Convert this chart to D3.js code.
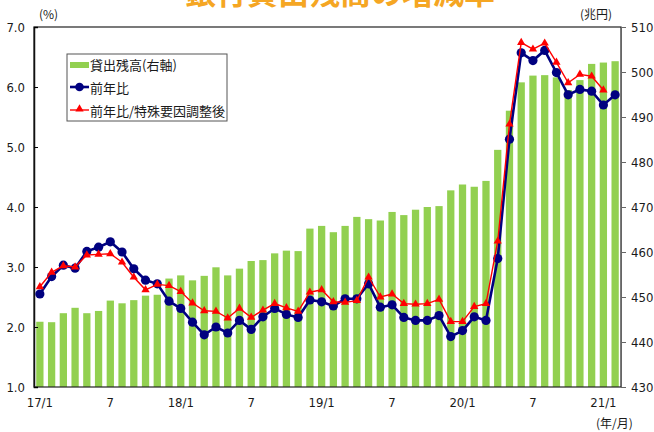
<!DOCTYPE html>
<html>
<head>
<meta charset="utf-8">
<script src="https://cdn.jsdelivr.net/npm/d3@7"></script>
<style>
  body { margin: 0; background: #fff; }
  svg text { font-family: "Liberation Sans Narrow", "DejaVu Sans Condensed", "Noto Sans CJK JP", sans-serif; fill: #1a1a1a; }
  .jp { font-family: "Noto Sans CJK JP", sans-serif; }
</style>
</head>
<body>
<script>
// chart values (17/1 .. 21/2, monthly)
var months = [
  "17/1","17/2","17/3","17/4","17/5","17/6","17/7","17/8","17/9","17/10","17/11","17/12",
  "18/1","18/2","18/3","18/4","18/5","18/6","18/7","18/8","18/9","18/10","18/11","18/12",
  "19/1","19/2","19/3","19/4","19/5","19/6","19/7","19/8","19/9","19/10","19/11","19/12",
  "20/1","20/2","20/3","20/4","20/5","20/6","20/7","20/8","20/9","20/10","20/11","20/12",
  "21/1","21/2"
];

// 貸出残高 (兆円, right axis)
var balance = [
  444.5, 444.4, 446.4, 447.6, 446.4, 446.9, 449.2, 448.6, 449.3, 450.3, 450.5, 454.1,
  454.8, 453.7, 454.7, 456.6, 454.8, 456.3, 458.0, 458.2, 459.7, 460.3, 460.2, 465.2,
  465.8, 464.4, 465.8, 467.8, 467.3, 467.0, 468.9, 468.2, 469.4, 470.0, 470.2, 473.7,
  475.0, 474.5, 475.8, 482.7, 491.4, 497.7, 499.2, 499.3, 498.8, 496.0, 498.2, 501.8,
  502.1, 502.4
];

// 前年比 (%)
var yoy = [
  2.55, 2.84, 3.03, 2.98, 3.26, 3.33, 3.42, 3.25, 2.97, 2.78, 2.72, 2.43,
  2.31, 2.08, 1.87, 2.00, 1.90, 2.11, 1.96, 2.17, 2.31, 2.21, 2.16, 2.45,
  2.42, 2.35, 2.47, 2.47, 2.72, 2.33, 2.37, 2.16, 2.11, 2.11, 2.19, 1.84,
  1.94, 2.17, 2.11, 3.14, 5.13, 6.57, 6.44, 6.61, 6.24, 5.87, 5.96, 5.93,
  5.70, 5.87
];

// 前年比/特殊要因調整後 (%)
var yoyAdj = [
  2.67, 2.91, 3.02, 3.00, 3.20, 3.21, 3.22, 3.08, 2.83, 2.62, 2.71, 2.69,
  2.59, 2.40, 2.27, 2.26, 2.15, 2.31, 2.16, 2.28, 2.39, 2.32, 2.26, 2.58,
  2.62, 2.42, 2.41, 2.44, 2.83, 2.50, 2.55, 2.39, 2.38, 2.39, 2.46, 2.09,
  2.09, 2.34, 2.39, 3.43, 5.38, 6.74, 6.63, 6.73, 6.41, 6.07, 6.21, 6.18,
  5.95, null
];

var xTickMonths = ["17/1","17/7","18/1","18/7","19/1","19/7","20/1","20/7","21/1"];
var xTickLabels = ["17/1","7","18/1","7","19/1","7","20/1","7","21/1"];
var leftTicks = [1, 2, 3, 4, 5, 6, 7];
var rightTicks = [430, 440, 450, 460, 470, 480, 490, 500, 510];
var legendLabels = ["貸出残高(右軸)", "前年比", "前年比/特殊要因調整後"];

var svgWidth = 654;
var svgHeight = 432;
var plot = { left: 34, right: 621, top: 27, bottom: 387 };

var svg = d3.select("body")
  .append("svg")
  .attr("width", svgWidth)
  .attr("height", svgHeight);

var x = d3.scaleBand()
  .domain(months)
  .range([plot.left, plot.right])
  .paddingInner(0.38)
  .paddingOuter(0.19);

var yL = d3.scaleLinear().domain([1, 7]).range([plot.bottom, plot.top]);
var yR = d3.scaleLinear().domain([430, 510]).range([plot.bottom, plot.top]);

// title (mostly cut off at the top)
svg.append("text")
  .attr("class", "jp")
  .attr("x", 340)
  .attr("y", 4)
  .attr("text-anchor", "middle")
  .style("font-size", "31px")
  .style("font-weight", "bold")
  .style("fill", "#f5a623")
  .text("銀行貸出残高の増減率");

// bars
svg.append("g")
  .selectAll("rect")
  .data(balance)
  .enter()
  .append("rect")
  .attr("x", (d, i) => x(months[i]))
  .attr("width", x.bandwidth())
  .attr("y", d => yR(d))
  .attr("height", d => plot.bottom - yR(d))
  .attr("fill", "#92d050");

// plot frame
svg.append("rect")
  .attr("x", plot.left)
  .attr("y", plot.top)
  .attr("width", plot.right - plot.left)
  .attr("height", plot.bottom - plot.top)
  .attr("fill", "none")
  .attr("stroke", "#222")
  .attr("stroke-width", 1.2);

// left axis (ticks inside)
var leftAxis = d3.axisLeft(yL).tickValues(leftTicks).tickSize(-4).tickPadding(9)
  .tickFormat(d3.format(".1f"));
var gL = svg.append("g")
  .attr("transform", `translate(${plot.left},0)`)
  .call(leftAxis);
gL.select(".domain").attr("stroke", "#111").attr("stroke-width", 1.5);
gL.selectAll("text").style("font-size", "13px");

// right axis (ticks outside)
var rightAxis = d3.axisRight(yR).tickValues(rightTicks).tickSize(5).tickPadding(5);
var gR = svg.append("g")
  .attr("transform", `translate(${plot.right},0)`)
  .call(rightAxis);
gR.select(".domain").attr("stroke", "#666");
gR.selectAll(".tick line").attr("stroke", "#666");
gR.selectAll("text").style("font-size", "13px");

// x axis labels
var bottomAxis = d3.axisBottom(x)
  .tickValues(xTickMonths)
  .tickSize(0)
  .tickPadding(11)
  .tickFormat((d, i) => xTickLabels[i]);
var gX = svg.append("g")
  .attr("transform", `translate(0,${plot.bottom})`)
  .call(bottomAxis);
gX.select(".domain").remove();
gX.selectAll("text").style("font-size", "13px");

// unit labels
svg.append("text").attr("class", "jp").attr("x", 39).attr("y", 19)
  .style("font-size", "12px").text("(%)");
svg.append("text").attr("class", "jp").attr("x", 580).attr("y", 19)
  .style("font-size", "12px").text("(兆円)");
svg.append("text").attr("class", "jp").attr("x", 596).attr("y", 428)
  .style("font-size", "12px").text("(年/月)");

var cx = (d, i) => x(months[i]) + x.bandwidth() / 2;

// 前年比 line
var line = d3.line()
  .defined(d => d != null)
  .x(cx)
  .y(d => yL(d));

svg.append("path")
  .datum(yoy)
  .attr("d", line)
  .attr("fill", "none")
  .attr("stroke", "#000080")
  .attr("stroke-width", 2.6);

svg.append("g")
  .selectAll("circle")
  .data(yoy)
  .enter()
  .append("circle")
  .attr("cx", cx)
  .attr("cy", d => yL(d))
  .attr("r", 4.6)
  .attr("fill", "#000080");

// 前年比/特殊要因調整後 line
svg.append("path")
  .datum(yoyAdj)
  .attr("d", line)
  .attr("fill", "none")
  .attr("stroke", "#ff0000")
  .attr("stroke-width", 1.4);

var tri = d3.symbol().type(d3.symbolTriangle).size(30);
svg.append("g")
  .selectAll("path")
  .data(yoyAdj.map((d, i) => ({ v: d, i: i })).filter(d => d.v != null))
  .enter()
  .append("path")
  .attr("d", tri)
  .attr("transform", d => `translate(${cx(d.v, d.i)},${yL(d.v)})`)
  .attr("fill", "#ff0000");

// legend
var legend = svg.append("g").attr("transform", "translate(67,54)");
legend.append("rect")
  .attr("width", 160)
  .attr("height", 67)
  .attr("fill", "#fff")
  .attr("stroke", "#555");

legend.append("rect")
  .attr("x", 3).attr("y", 8).attr("width", 19).attr("height", 6)
  .attr("fill", "#92d050");

legend.append("line")
  .attr("x1", 3).attr("x2", 22).attr("y1", 33).attr("y2", 33)
  .attr("stroke", "#000080").attr("stroke-width", 2.6);
legend.append("circle")
  .attr("cx", 12.5).attr("cy", 33).attr("r", 4.3).attr("fill", "#000080");

legend.append("line")
  .attr("x1", 3).attr("x2", 22).attr("y1", 56).attr("y2", 56)
  .attr("stroke", "#ff0000").attr("stroke-width", 1.4);
legend.append("path")
  .attr("d", tri)
  .attr("transform", "translate(12.5,55)")
  .attr("fill", "#ff0000");

legend.selectAll("text.lbl")
  .data(legendLabels)
  .enter()
  .append("text")
  .attr("class", "jp lbl")
  .attr("x", 23)
  .attr("y", (d, i) => 16 + i * 23)
  .style("font-size", "13px")
  .text(d => d);
</script>
</body>
</html>
